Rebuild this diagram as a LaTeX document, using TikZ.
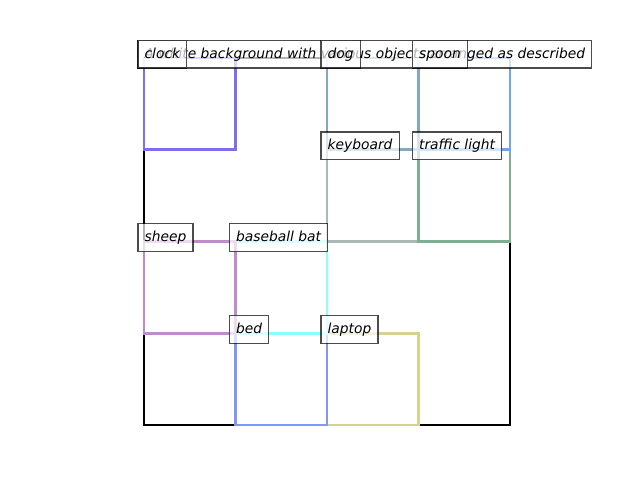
\documentclass[tikz,border=0pt]{standalone}
\usepackage{fontspec}
\setmainfont{DejaVu Sans}
\definecolor{cclock}{RGB}{125,110,235}
\definecolor{cdog}{RGB}{130,170,190}
\definecolor{cspoon}{RGB}{110,165,235}
\definecolor{ckeyboard}{RGB}{170,185,180}
\definecolor{ctraffic}{RGB}{125,175,145}
\definecolor{csheep}{RGB}{190,140,205}
\definecolor{cbat}{RGB}{140,255,255}
\definecolor{cbed}{RGB}{130,150,245}
\definecolor{claptop}{RGB}{215,210,145}
\begin{document}
\begin{tikzpicture}[x=0.72pt,y=-0.72pt,
  objbox/.style={line width=1.9pt},
  lbl/.style={anchor=base west, xshift=-4.8pt, draw=black, fill=white,
    fill opacity=0.7, draw opacity=0.7, text opacity=1, line width=0.9pt,
    inner sep=4.8pt, text height=8pt, text depth=2.4pt,
    font=\fontsize{9.95pt}{12pt}\selectfont\itshape}]
\useasboundingbox (0,0) rectangle (640,480);
% background
\draw[line width=1.9pt, black] (144,58) rectangle (510,425);
% objects
\draw[objbox, claptop] (327,333.25) rectangle (418.5,425);
\draw[objbox, cbed] (235.5,333.25) rectangle (327,425);
\draw[objbox, cbat] (235.5,241.5) rectangle (327,333.25);
\draw[objbox, csheep] (144,241.5) rectangle (235.5,333.25);
\draw[objbox, ckeyboard] (327,149.75) rectangle (418.5,241.5);
\draw[objbox, ctraffic] (418.5,149.75) rectangle (510,241.5);
\draw[objbox, cspoon] (418.5,58) rectangle (510,149.75);
\draw[objbox, cdog] (327,58) rectangle (418.5,149.75);
\draw[objbox, cclock] (144,58) rectangle (235.5,149.75);
% labels
\node[lbl] (title) at (144,58) {A white background with various objects arranged as described};
\node[lbl] (clock) at (144,58) {clock};
\node[lbl] (dog) at (327,58) {dog};
\node[lbl] (spoon) at (418.5,58) {spoon};
\node[lbl] (keyboard) at (327,149.75) {keyboard};
\node[lbl] (traffic) at (418.5,149.75) {traffic light};
\node[lbl] (sheep) at (144,241.5) {sheep};
\node[lbl] (bat) at (235.5,241.5) {baseball bat};
\node[lbl] (bed) at (235.5,333.25) {bed};
\node[lbl] (laptop) at (327,333.25) {laptop};
\end{tikzpicture}
\end{document}
